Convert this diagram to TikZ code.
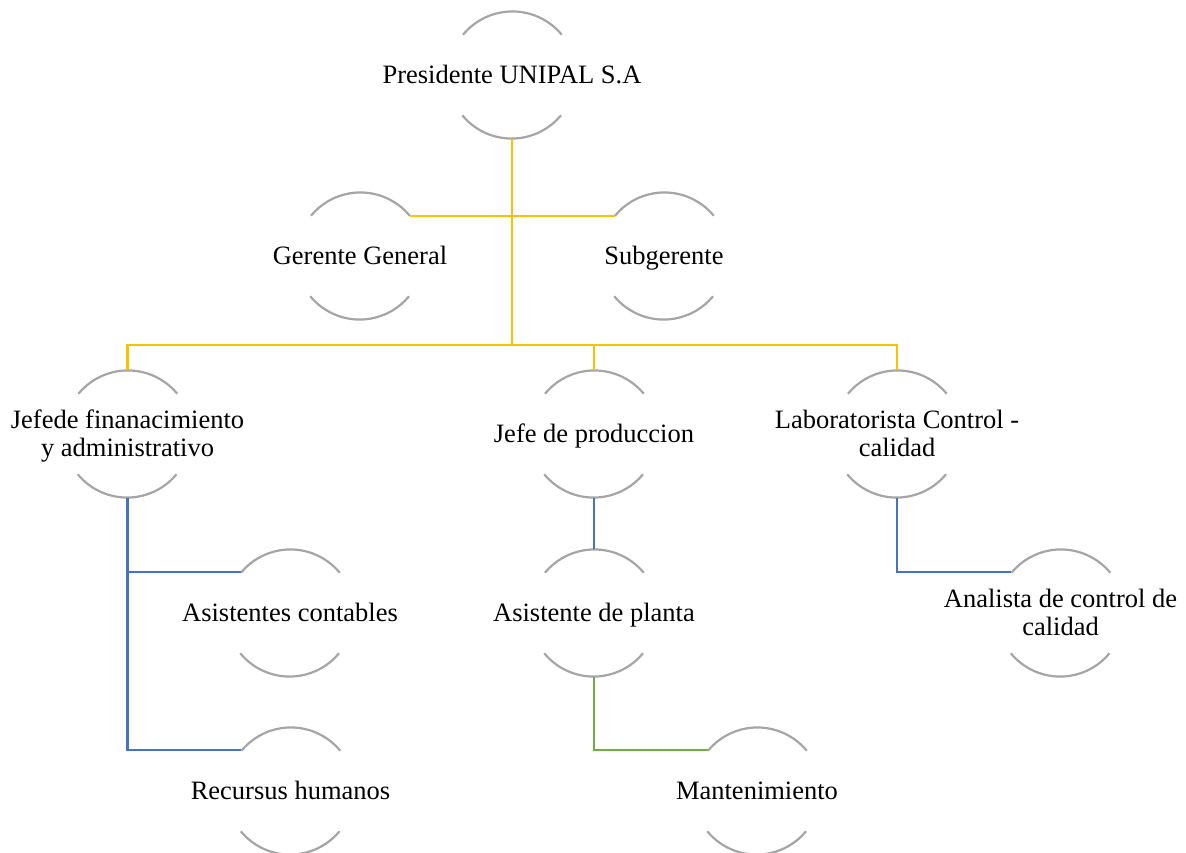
\documentclass[tikz,border=0pt]{standalone}
\usepackage{fontspec}
\setmainfont{Liberation Serif}
\definecolor{arcgray}{HTML}{A5A5A5}
\definecolor{yl}{HTML}{FFC000}
\definecolor{bl}{HTML}{4472C4}
\definecolor{gr}{HTML}{70AD47}
\newcommand{\lns}{\strut}
\begin{document}
\begin{tikzpicture}[x=1pt,y=1pt,
  role/.style={circle, minimum size=128pt, inner sep=0pt, outer sep=0pt},
  roletext/.style={align=center, font=\fontsize{26.5}{28}\selectfont, inner sep=0pt, yshift=-2.5pt},
  arcline/.style={draw=arcgray, line width=2.2pt},
  conn/.style={line width=2.2pt}
]
\useasboundingbox (0,0) rectangle (1186,-852);
% role circles (invisible) with text
\node[role] (pres) at (512,-75) {};
\node[roletext] (presT) at (pres.center) {\lns Presidente UNIPAL S.A};
\node[role] (gg) at (360,-256) {};
\node[roletext] (ggT) at (gg.center) {\lns Gerente General};
\node[role] (sg) at (664,-256) {};
\node[roletext] (sgT) at (sg.center) {\lns Subgerente};
\node[role] (jf) at (127.5,-434) {};
\node[roletext] (jfT) at (jf.center) {\lns Jefede finanacimiento\\\lns y administrativo};
\node[role] (jp) at (594,-434) {};
\node[roletext] (jpT) at (jp.center) {\lns Jefe de produccion};
\node[role] (lab) at (897,-434) {};
\node[roletext] (labT) at (lab.center) {\lns Laboratorista Control -\\\lns calidad};
\node[role] (ac) at (290,-613) {};
\node[roletext] (acT) at (ac.center) {\lns Asistentes contables};
\node[role] (ap) at (594,-613) {};
\node[roletext] (apT) at (ap.center) {\lns Asistente de planta};
\node[role] (an) at (1060.5,-613) {};
\node[roletext] (anT) at (an.center) {\lns Analista de control de\\\lns calidad};
\node[role] (rh) at (290.5,-791) {};
\node[roletext] (rhT) at (rh.center) {\lns Recursus humanos};
\node[role] (mt) at (757,-791) {};
\node[roletext] (mtT) at (mt.center) {\lns Mantenimiento};
% arcs
\foreach \n in {pres,gg,sg,jf,jp,lab,ac,ap,an,rh,mt}{
  \draw[arcline] (\n.39.5) arc[start angle=39.5, end angle=140.5, radius=64pt];
  \draw[arcline] (\n.219.5) arc[start angle=219.5, end angle=320.5, radius=64pt];
}
% connectors
\coordinate (hub) at (512,-345);
\draw[conn, yl] (pres.south) -- (hub);
\draw[conn, yl] (gg.39.5) -- (gg.39.5 -| sg.140.5);
\draw[conn, yl] (jf.north) |- (hub);
\draw[conn, yl] (jp.north) |- (hub);
\draw[conn, yl] (lab.north) |- (hub);
\draw[conn, bl] (jf.south) |- (ac.140.5);
\draw[conn, bl] (jf.south) |- (rh.140.5);
\draw[conn, bl] (jp.south) -- (ap.north);
\draw[conn, bl] (lab.south) |- (an.140.5);
\draw[conn, gr] (ap.south) |- (mt.140.5);
\end{tikzpicture}
\end{document}
